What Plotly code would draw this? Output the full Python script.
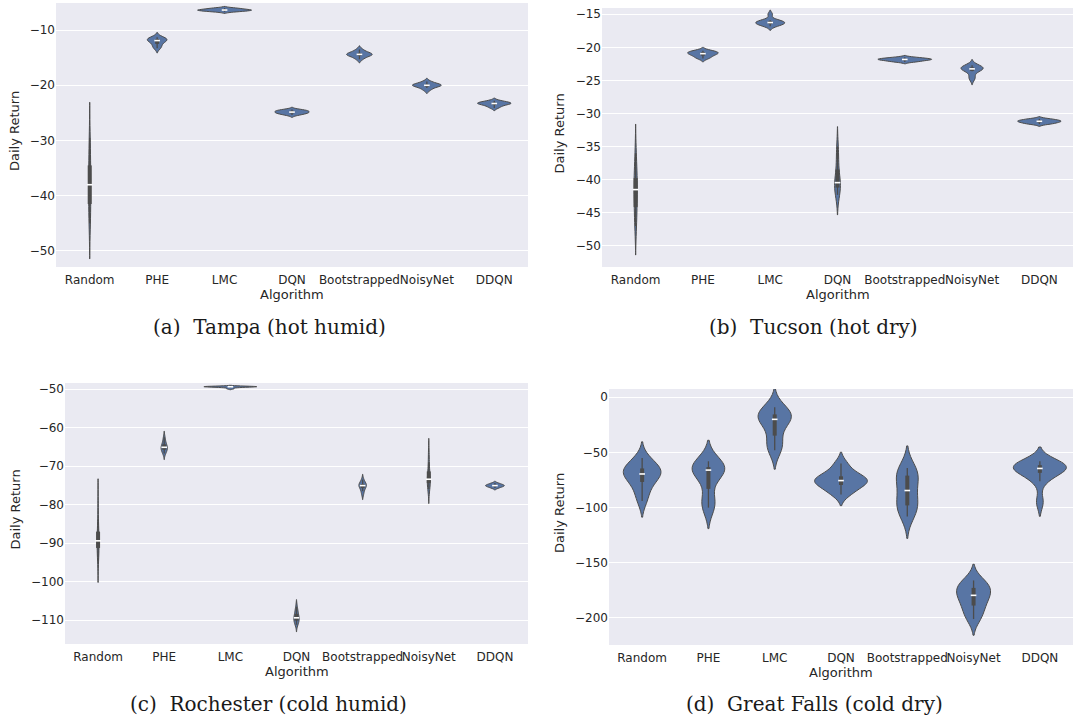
import numpy as np
import plotly.graph_objects as go
from plotly.subplots import make_subplots

algorithms = ["Random", "PHE", "LMC", "DQN", "Bootstrapped", "NoisyNet", "DDQN"]

# Daily return samples per algorithm (order as in `algorithms`)
tampa_returns = [
    [-29.5, -32, -34, -36, -37.5, -38.5, -40, -42, -44, -45],
    [-11.3, -11.5, -11.6, -11.7, -11.8, -12.0, -12.2, -12.6, -13.0, -13.3],
    [-6.0, -6.1, -6.2, -6.3, -6.35, -6.4, -6.45, -6.5, -6.6, -6.7],
    [-24.4, -24.5, -24.6, -24.7, -24.8, -24.9, -25.0, -25.1, -25.2, -25.4],
    [-13.5, -13.9, -14.1, -14.3, -14.4, -14.4, -14.5, -14.7, -14.9, -15.3],
    [-19.3, -19.6, -19.8, -19.9, -20.0, -20.0, -20.1, -20.3, -20.5, -20.9],
    [-22.8, -23.0, -23.1, -23.2, -23.3, -23.3, -23.4, -23.6, -23.8, -24.1],
]
tucson_returns = [
    [-36, -38, -39.5, -40.5, -41, -42, -43, -44.5, -46, -47],
    [-20.5, -20.6, -20.7, -20.8, -20.9, -21.0, -21.1, -21.3, -21.5, -21.7],
    [-15.0, -15.9, -16.0, -16.1, -16.2, -16.3, -16.4, -16.5, -16.6, -16.8],
    [-35, -36.5, -38, -39.8, -40.3, -40.6, -40.9, -41.3, -41.8, -42.3],
    [-21.5, -21.6, -21.7, -21.75, -21.8, -21.85, -21.9, -22.0, -22.1, -22.2],
    [-22.7, -22.9, -23.0, -23.1, -23.2, -23.3, -23.4, -23.6, -24.4, -24.8],
    [-30.8, -30.9, -31.0, -31.1, -31.15, -31.2, -31.3, -31.4, -31.5, -31.6],
]
rochester_returns = [
    [-79, -84, -86.5, -88.5, -89.2, -89.6, -90.5, -91.5, -93, -94.5],
    [-62.5, -63.5, -64.2, -64.7, -65.0, -65.2, -65.5, -65.8, -66.2, -66.7],
    [-49.25, -49.3, -49.3, -49.35, -49.35, -49.4, -49.4, -49.45, -49.6, -49.9],
    [-106.5, -107.5, -108.2, -108.8, -109.2, -109.6, -109.9, -110.2, -110.6, -111.2],
    [-73.5, -74.2, -74.6, -74.8, -75.0, -75.1, -75.4, -75.8, -76.5, -77.3],
    [-66.5, -69, -71, -72.5, -73.2, -73.6, -74, -74.5, -75.2, -76],
    [-74.4, -74.6, -74.8, -74.9, -75.0, -75.1, -75.2, -75.3, -75.5, -75.7],
]
great_falls_returns = [
    [-55, -61, -64, -66, -68.5, -70.5, -73, -78, -85, -94],
    [-58, -61, -62.5, -64, -65, -66, -68, -74, -92, -97, -100],
    [-9, -13, -15, -17, -19, -21, -25, -38, -44, -48],
    [-60, -67, -71, -73.5, -75, -76, -78, -80, -84, -88],
    [-64, -67, -70, -74, -81, -88, -95, -99, -102, -108],
    [-166, -169, -172, -175, -178, -181, -185, -190, -196, -201],
    [-58, -60, -61, -62, -63, -64.5, -65.5, -67, -70, -76, -95],
]

panel_data = [tampa_returns, tucson_returns, rochester_returns, great_falls_returns]
captions = ["(a)  Tampa (hot humid)", "(b)  Tucson (hot dry)",
            "(c)  Rochester (cold humid)", "(d)  Great Falls (cold dry)"]
y_ranges = [[-52.9, -5.1], [-53.2, -14.05], [-116.2, -48.4], [-224.5, 7.5]]
y_ticks = [[-50, -40, -30, -20, -10], [-50, -45, -40, -35, -30, -25, -20, -15],
           [-110, -100, -90, -80, -70, -60, -50], [-200, -150, -100, -50, 0]]

W, H = 1073, 719
# plot areas in pixels: (left, right, top, bottom)
areas = [(56, 528, 3, 267), (602, 1073, 8, 267), (65, 528, 383, 644), (609, 1073, 389, 645)]

FILL = "#5875A4"
GRAY = "#4c4c4c"
TXT = "#262626"


def scott_bw(v):
    v = np.asarray(v, float)
    return v.std(ddof=1) * len(v) ** (-1 / 5)


def peak_density(v):
    v = np.asarray(v, float)
    bw = scott_bw(v)
    grid = np.linspace(v.min() - 2 * bw, v.max() + 2 * bw, 200)
    dens = np.exp(-0.5 * ((grid[:, None] - v[None, :]) / bw) ** 2).sum(1) / (len(v) * bw * np.sqrt(2 * np.pi))
    return dens.max()


fig = make_subplots(rows=2, cols=2)

for p, data in enumerate(panel_data):
    row, col = p // 2 + 1, p % 2 + 1
    peaks = [peak_density(v) for v in data]
    pmax = max(peaks)
    for cat, vals, pk in zip(algorithms, data, peaks):
        vals = np.asarray(vals, float)
        fig.add_trace(go.Violin(
            x=[cat] * len(vals), y=vals, name=cat, showlegend=False,
            bandwidth=scott_bw(vals), spanmode="soft", scalemode="width",
            width=0.8 * pk / pmax, points=False, box_visible=False,
            meanline_visible=False, fillcolor=FILL, opacity=1,
            line=dict(color=GRAY, width=1), hoverinfo="skip"), row=row, col=col)
        q25, q50, q75 = np.percentile(vals, [25, 50, 75])
        iqr = q75 - q25
        lo = vals[vals >= q25 - 1.5 * iqr].min()
        hi = vals[vals <= q75 + 1.5 * iqr].max()
        fig.add_trace(go.Scatter(x=[cat, cat], y=[lo, hi], mode="lines",
                                 line=dict(color=GRAY, width=1.3), showlegend=False,
                                 hoverinfo="skip"), row=row, col=col)
        fig.add_trace(go.Scatter(x=[cat, cat], y=[q25, q75], mode="lines",
                                 line=dict(color=GRAY, width=4), showlegend=False,
                                 hoverinfo="skip"), row=row, col=col)
        fig.add_trace(go.Scatter(x=[cat], y=[q50], mode="markers",
                                 marker=dict(symbol="line-ew", size=4,
                                             line=dict(color="white", width=1.6)),
                                 showlegend=False, hoverinfo="skip"), row=row, col=col)

annotations = []
for p in range(4):
    l, r, t, b = areas[p]
    ax = "" if p == 0 else str(p + 1)
    fig.layout["xaxis" + ax].update(
        domain=[l / W, r / W], type="category", categoryorder="array",
        categoryarray=algorithms, range=[-0.5, 6.5], showgrid=False,
        zeroline=False, showline=False, ticks="", tickangle=0, ticklabelstandoff=4,
        tickfont=dict(family="DejaVu Sans", size=12, color=TXT))
    fig.layout["yaxis" + ax].update(
        domain=[1 - b / H, 1 - t / H], range=y_ranges[p], tickvals=y_ticks[p],
        showgrid=True, gridcolor="white", gridwidth=1.2, zeroline=False,
        showline=False, ticks="",
        tickfont=dict(family="DejaVu Sans", size=12, color=TXT))
    cx = (l + r) / 2
    annotations.append(dict(text="Algorithm", x=cx / W, y=1 - (b + 27) / H,
                            xref="paper", yref="paper", showarrow=False,
                            font=dict(family="DejaVu Sans", size=13, color=TXT),
                            xanchor="center", yanchor="middle"))
    ytx = 15 if p % 2 == 0 else 559
    annotations.append(dict(text="Daily Return", x=ytx / W, y=1 - ((t + b) / 2 - 4) / H,
                            xref="paper", yref="paper", showarrow=False, textangle=-90,
                            font=dict(family="DejaVu Sans", size=13, color=TXT),
                            xanchor="center", yanchor="middle"))

cap_pos = [(269, 327), (813, 327), (268, 704), (814, 704)]
for p, (cx, cy) in enumerate(cap_pos):
    annotations.append(dict(text=captions[p], x=cx / W, y=1 - cy / H,
                            xref="paper", yref="paper", showarrow=False,
                            font=dict(family="DejaVu Serif", size=20, color="#1a1a1a"),
                            xanchor="center", yanchor="middle"))

fig.update_layout(
    width=W, height=H, margin=dict(l=0, r=0, t=0, b=0),
    paper_bgcolor="white", plot_bgcolor="#EAEAF2",
    violinmode="overlay", violingap=0, showlegend=False,
    annotations=annotations)

fig.write_html("out.html")
